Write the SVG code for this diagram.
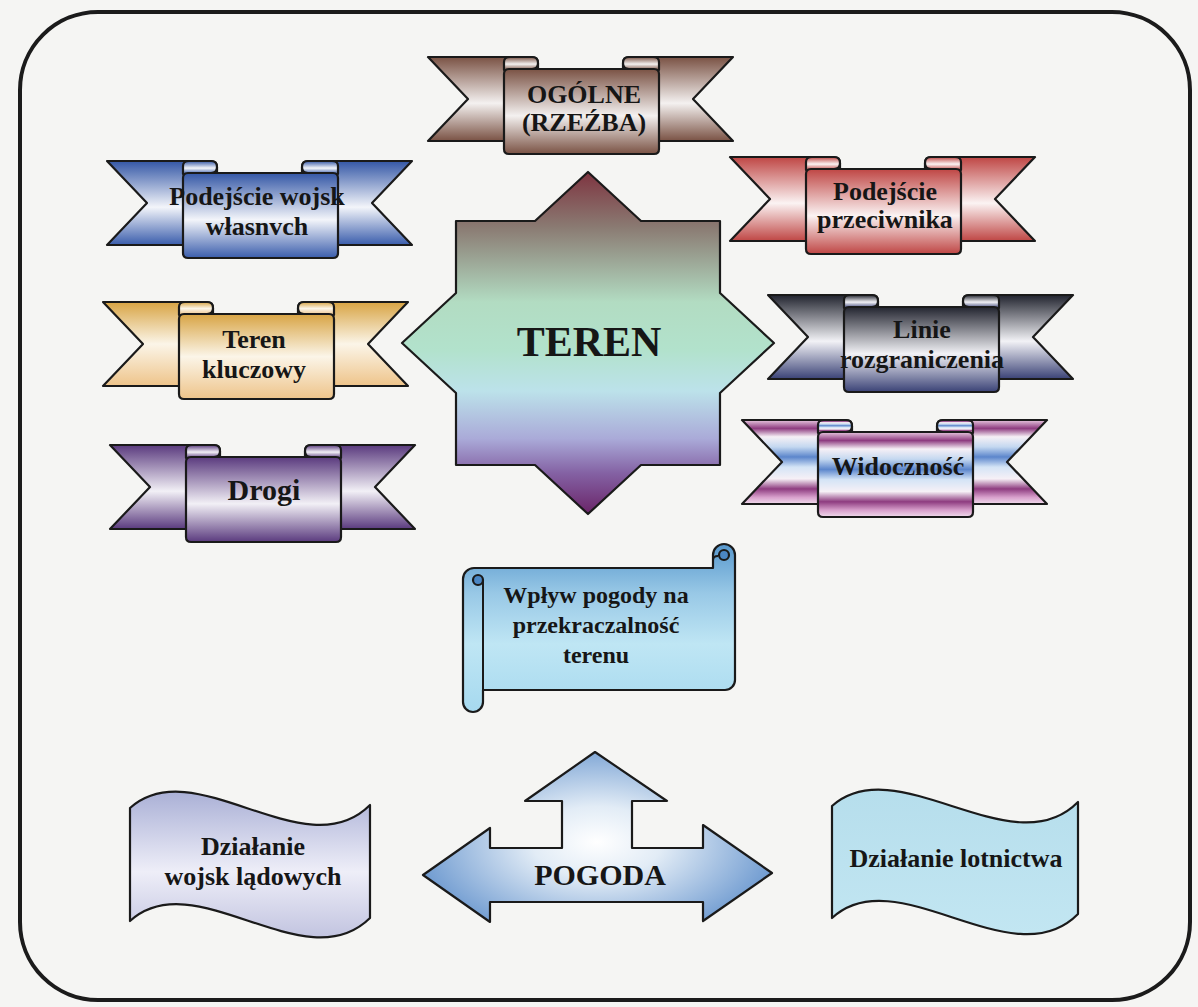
<svg xmlns="http://www.w3.org/2000/svg" width="1198" height="1007" viewBox="0 0 1198 1007">
<style>
.ol{stroke:#1a1a1a;stroke-width:2.2;stroke-linejoin:round}
.ln{fill:none;stroke:#1a1a1a;stroke-width:2}
.t{font-family:"Liberation Serif","Times New Roman",serif;font-weight:bold;fill:#161616;text-anchor:middle}
.t26{font-size:26px}
.t24{font-size:24px}
.t30{font-size:30px}
</style>
<defs>
<linearGradient id="gOg" x1="0" y1="0" x2="0" y2="1"><stop offset="0" stop-color="#7a5244"/><stop offset="0.55" stop-color="#f4f1f0"/><stop offset="1" stop-color="#7a5244"/></linearGradient>
<linearGradient id="gWo" x1="0" y1="0" x2="0" y2="1"><stop offset="0" stop-color="#3457a6"/><stop offset="0.55" stop-color="#f3f5fa"/><stop offset="1" stop-color="#3a5dac"/></linearGradient>
<linearGradient id="gPr" x1="0" y1="0" x2="0" y2="1"><stop offset="0" stop-color="#bf4644"/><stop offset="0.55" stop-color="#fbf3f3"/><stop offset="1" stop-color="#bf4644"/></linearGradient>
<linearGradient id="gTk" x1="0" y1="0" x2="0" y2="1"><stop offset="0" stop-color="#d8a444"/><stop offset="0.5" stop-color="#fbf5e8"/><stop offset="1" stop-color="#eec48a"/></linearGradient>
<linearGradient id="gLi" x1="0" y1="0" x2="0" y2="1"><stop offset="0" stop-color="#22242f"/><stop offset="0.55" stop-color="#f2f2f6"/><stop offset="1" stop-color="#3a4276"/></linearGradient>
<linearGradient id="gDr" x1="0" y1="0" x2="0" y2="1"><stop offset="0" stop-color="#5a3a7e"/><stop offset="0.55" stop-color="#f2f0f6"/><stop offset="1" stop-color="#5a3a7e"/></linearGradient>
<linearGradient id="gWi" x1="0" y1="0" x2="0" y2="1"><stop offset="0" stop-color="#e8c8e0"/><stop offset="0.1" stop-color="#8e3c80"/><stop offset="0.2" stop-color="#f6f0f6"/><stop offset="0.32" stop-color="#c4d8f0"/><stop offset="0.44" stop-color="#5c86cc"/><stop offset="0.56" stop-color="#d4e4f6"/><stop offset="0.7" stop-color="#f6f0f6"/><stop offset="0.82" stop-color="#8e3c80"/><stop offset="0.92" stop-color="#d8a0cc"/><stop offset="1" stop-color="#f0dcec"/></linearGradient>
<linearGradient id="gStar" gradientUnits="userSpaceOnUse" x1="0" y1="172" x2="0" y2="514"><stop offset="0" stop-color="#7e3440"/><stop offset="0.16" stop-color="#8a7a72"/><stop offset="0.38" stop-color="#b2dcc2"/><stop offset="0.52" stop-color="#b2e2cc"/><stop offset="0.64" stop-color="#bce2ea"/><stop offset="0.78" stop-color="#aaaad8"/><stop offset="0.88" stop-color="#8462a4"/><stop offset="1" stop-color="#6a2468"/></linearGradient>
<linearGradient id="gScroll" gradientUnits="userSpaceOnUse" x1="0" y1="542" x2="0" y2="712"><stop offset="0" stop-color="#5596cc"/><stop offset="0.3" stop-color="#98c8e6"/><stop offset="0.6" stop-color="#bfe6f4"/><stop offset="1" stop-color="#a6d9ef"/></linearGradient>
<linearGradient id="gWave1" x1="0" y1="0" x2="0" y2="1"><stop offset="0" stop-color="#aab0d6"/><stop offset="0.55" stop-color="#eeeef8"/><stop offset="1" stop-color="#c2c4e0"/></linearGradient>
<linearGradient id="gWave2" x1="0" y1="0" x2="0" y2="1"><stop offset="0" stop-color="#b6deec"/><stop offset="1" stop-color="#c2e6f2"/></linearGradient>
<radialGradient id="gArrow" gradientUnits="userSpaceOnUse" cx="597" cy="842" r="185" gradientTransform="translate(597 842) scale(1 0.55) translate(-597 -842)"><stop offset="0" stop-color="#ffffff"/><stop offset="0.35" stop-color="#e2ecf6"/><stop offset="1" stop-color="#6e9ad0"/></radialGradient>
</defs>

<rect x="0" y="0" width="1198" height="1007" fill="#f5f5f3"/>
<rect x="20" y="12" width="1170" height="988" rx="78" ry="78" fill="none" stroke="#1b1b1b" stroke-width="4"/>

<g id="n-ogolne" transform="translate(428 57)" fill="url(#gOg)">
<path class="ol" d="M0,0 H104 Q110,0 110,6 V84 H0 L40,42 Z"/>
<path class="ol" d="M305,0 H201 Q195,0 195,6 V84 H305 L265,42 Z"/>
<path class="ol" d="M76,13 V5 Q76,0 82,0 H104 Q110,0 110,6 Q110,12 104,12 Z"/>
<path class="ol" d="M231,13 V5 Q231,0 225,0 H201 Q195,0 195,6 Q195,12 201,12 Z"/>
<path class="ol" d="M81,12 H226 Q231,12 231,17 V92 Q231,97 226,97 H81 Q76,97 76,92 V17 Q76,12 81,12 Z"/>
<text class="t t26" x="156" y="46">OGÓLNE</text>
<text class="t t26" x="156" y="74">(RZEŹBA)</text>
</g>

<g id="n-podejscie-wojsk" transform="translate(107 161)" fill="url(#gWo)">
<path class="ol" d="M0,0 H104 Q110,0 110,6 V84 H0 L40,42 Z"/>
<path class="ol" d="M305,0 H201 Q195,0 195,6 V84 H305 L265,42 Z"/>
<path class="ol" d="M76,13 V5 Q76,0 82,0 H104 Q110,0 110,6 Q110,12 104,12 Z"/>
<path class="ol" d="M231,13 V5 Q231,0 225,0 H201 Q195,0 195,6 Q195,12 201,12 Z"/>
<path class="ol" d="M81,12 H226 Q231,12 231,17 V92 Q231,97 226,97 H81 Q76,97 76,92 V17 Q76,12 81,12 Z"/>
<text class="t t26" x="150" y="44">Podejście wojsk</text>
<text class="t t26" x="150" y="74">własnvch</text>
</g>

<g id="n-podejscie-przeciwnika" transform="translate(730 157)" fill="url(#gPr)">
<path class="ol" d="M0,0 H104 Q110,0 110,6 V84 H0 L40,42 Z"/>
<path class="ol" d="M305,0 H201 Q195,0 195,6 V84 H305 L265,42 Z"/>
<path class="ol" d="M76,13 V5 Q76,0 82,0 H104 Q110,0 110,6 Q110,12 104,12 Z"/>
<path class="ol" d="M231,13 V5 Q231,0 225,0 H201 Q195,0 195,6 Q195,12 201,12 Z"/>
<path class="ol" d="M81,12 H226 Q231,12 231,17 V92 Q231,97 226,97 H81 Q76,97 76,92 V17 Q76,12 81,12 Z"/>
<text class="t t26" x="155" y="43">Podejście</text>
<text class="t t26" x="155" y="71">przeciwnika</text>
</g>

<g id="n-teren-kluczowy" transform="translate(103 302)" fill="url(#gTk)">
<path class="ol" d="M0,0 H104 Q110,0 110,6 V84 H0 L40,42 Z"/>
<path class="ol" d="M305,0 H201 Q195,0 195,6 V84 H305 L265,42 Z"/>
<path class="ol" d="M76,13 V5 Q76,0 82,0 H104 Q110,0 110,6 Q110,12 104,12 Z"/>
<path class="ol" d="M231,13 V5 Q231,0 225,0 H201 Q195,0 195,6 Q195,12 201,12 Z"/>
<path class="ol" d="M81,12 H226 Q231,12 231,17 V92 Q231,97 226,97 H81 Q76,97 76,92 V17 Q76,12 81,12 Z"/>
<text class="t t26" x="151" y="46">Teren</text>
<text class="t t26" x="151" y="76">kluczowy</text>
</g>

<g id="n-linie" transform="translate(768 295)" fill="url(#gLi)">
<path class="ol" d="M0,0 H104 Q110,0 110,6 V84 H0 L40,42 Z"/>
<path class="ol" d="M305,0 H201 Q195,0 195,6 V84 H305 L265,42 Z"/>
<path class="ol" d="M76,13 V5 Q76,0 82,0 H104 Q110,0 110,6 Q110,12 104,12 Z"/>
<path class="ol" d="M231,13 V5 Q231,0 225,0 H201 Q195,0 195,6 Q195,12 201,12 Z"/>
<path class="ol" d="M81,12 H226 Q231,12 231,17 V92 Q231,97 226,97 H81 Q76,97 76,92 V17 Q76,12 81,12 Z"/>
<text class="t t26" x="154" y="43">Linie</text>
<text class="t t26" x="154" y="73">rozgraniczenia</text>
</g>

<g id="n-drogi" transform="translate(110 445)" fill="url(#gDr)">
<path class="ol" d="M0,0 H104 Q110,0 110,6 V84 H0 L40,42 Z"/>
<path class="ol" d="M305,0 H201 Q195,0 195,6 V84 H305 L265,42 Z"/>
<path class="ol" d="M76,13 V5 Q76,0 82,0 H104 Q110,0 110,6 Q110,12 104,12 Z"/>
<path class="ol" d="M231,13 V5 Q231,0 225,0 H201 Q195,0 195,6 Q195,12 201,12 Z"/>
<path class="ol" d="M81,12 H226 Q231,12 231,17 V92 Q231,97 226,97 H81 Q76,97 76,92 V17 Q76,12 81,12 Z"/>
<text class="t t30" x="154" y="55">Drogi</text>
</g>

<g id="n-widocznosc" transform="translate(742 420)" fill="url(#gWi)">
<path class="ol" d="M0,0 H104 Q110,0 110,6 V84 H0 L40,42 Z"/>
<path class="ol" d="M305,0 H201 Q195,0 195,6 V84 H305 L265,42 Z"/>
<path class="ol" d="M76,13 V5 Q76,0 82,0 H104 Q110,0 110,6 Q110,12 104,12 Z"/>
<path class="ol" d="M231,13 V5 Q231,0 225,0 H201 Q195,0 195,6 Q195,12 201,12 Z"/>
<path class="ol" d="M81,12 H226 Q231,12 231,17 V92 Q231,97 226,97 H81 Q76,97 76,92 V17 Q76,12 81,12 Z"/>
<text class="t t26" x="156" y="55">Widoczność</text>
</g>

<g id="n-teren">
<path class="ol" fill="url(#gStar)" d="M588,172 L641,221 L720,221 L720,293 L774,343 L720,393 L720,465 L641,465 L588,514 L535,465 L456,465 L456,393 L402,343 L456,293 L456,221 L535,221 Z"/>
<text class="t" font-size="42" x="589" y="356">TEREN</text>
</g>

<g id="n-wplyw-pogody">
<path class="ol" fill="url(#gScroll)" d="M463,579 A11,11 0 0 1 474,568 H713 V555 A11,11 0 0 1 735,555 V680 A10,10 0 0 1 725,690 H483 V702 A10,10 0 0 1 463,702 Z"/>
<path class="ln" d="M483,690 V580"/>
<path class="ol" fill="#4a86c4" stroke-width="1.6" d="M483,580 A5,5 0 0 0 473,580 A5,5 0 0 0 483,580 Z"/>
<path class="ln" d="M713,568 V560 Q713,556 718,556"/>
<path class="ol" fill="#4a86c4" stroke-width="1.6" d="M719,555 A5,5 0 0 1 729,555 A5,5 0 0 1 719,555 Z"/>
<text class="t t24" x="596" y="603">Wpływ pogody na</text>
<text class="t t24" x="596" y="633">przekraczalność</text>
<text class="t t24" x="596" y="663">terenu</text>
</g>

<g id="n-dzialanie-ladowe">
<path class="ol" fill="url(#gWave1)" d="M130,808 C195,750 305,870 370,805 V918 C305,982 195,862 130,921 Z"/>
<text class="t t26" x="253" y="855">Działanie</text>
<text class="t t26" x="253" y="885">wojsk lądowych</text>
</g>

<g id="n-pogoda">
<path class="ol" fill="url(#gArrow)" d="M595,752 L667,801 L632,801 L632,848 L703,848 L703,825 L772,873 L703,921 L703,902 L490,902 L490,922 L423,875 L490,828 L490,848 L562,848 L562,801 L525,801 Z"/>
<text class="t t30" x="600" y="885">POGODA</text>
</g>

<g id="n-dzialanie-lotnictwa">
<path class="ol" fill="url(#gWave2)" d="M832,806 C897,748 1013,868 1078,802 V914 C1013,980 897,858 832,918 Z"/>
<text class="t t26" x="956" y="867">Działanie lotnictwa</text>
</g>

<g id="connectors"/>
</svg>
